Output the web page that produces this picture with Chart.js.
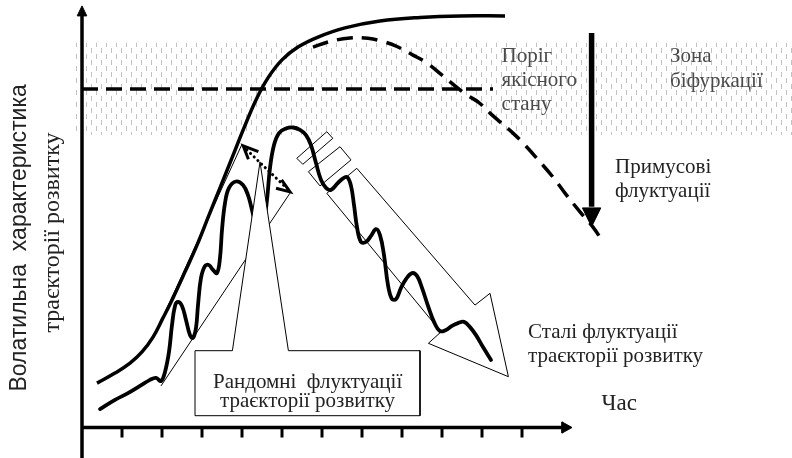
<!DOCTYPE html>
<html><head><meta charset="utf-8">
<script src="https://cdn.jsdelivr.net/npm/chart.js@4/dist/chart.umd.min.js"></script>
<style>html,body{margin:0;padding:0;background:#fff;}#wrap{width:792px;height:458px;position:relative;}</style>
</head><body><div id="wrap"><canvas id="c" width="792" height="458"></canvas></div>
<script>
// ---------- data (time units on x, volatility units on y) ----------
const timeTicks = [10,20,30,40,50,60,70,80,90,100,110];
const growthCurve = [[3.75,11.1],[8.25,13.6],[12,16.1],[15,18.9],[17.75,22.6],[20.25,27.4],[22.75,32.4],[25.75,38.9],[28.75,45.6],[31.75,53.1],[34.5,59.9],[37.5,67.4],[40.5,74.9],[43.5,81.9],[46.5,87.4],[50,91.9],[54,95.1],[59,97.6],[65.75,99.9],[74.5,101.6],[84.5,102.5],[94.5,102.9],[105.75,102.9]];
const declineCurve = [[57.75,95.1],[62,96.5],[67,97.4],[71.5,97.3],[75.25,96.5],[78.75,95.25],[82.75,93.1],[86.25,91.1],[90.25,87.9],[93.25,85.4],[96.25,83.1],[99,81.4],[102,78.6],[104.5,76.4],[107.75,73.6],[110.75,70.6],[114.5,66.4],[117.75,62.6],[120.75,58.6],[124.5,53.9],[127.75,50.1],[130.25,46.4]];
const trajectory = [[4.5,4.6],[8.25,6.9],[11.5,8.6],[14.5,10.4],[17,11.9],[18.5,12.4],[19.75,11.6],[20.75,13.9],[21.75,18.9],[22.5,25.6],[23.25,30.4],[24,31.4],[25,30.4],[26,26.9],[27,23.1],[27.75,22.4],[28.5,24.9],[29,30.6],[29.75,37.4],[30.75,40.4],[31.75,40.6],[32.75,39.4],[33.75,38.6],[34.5,42.4],[35,49.4],[35.75,56.1],[36.75,59.9],[38.5,61.5],[40.25,60.6],[41.5,58.1],[42.5,54.4],[43.5,50.6],[44.5,49.6],[45.5,51.9],[46.25,56.9],[47,64.9],[48,70.6],[49.25,73.6],[51,74.75],[52.75,75],[54.5,74.4],[56,73.1],[57.25,70.6],[58.5,66.1],[59.75,61.9],[61,59.9],[62.25,59.4],[63.75,60.9],[65,62.1],[66.25,62.6],[67.25,60.4],[68,55.6],[68.75,50.1],[69.75,46.4],[71,46.4],[72.25,47.9],[73.5,49.6],[74.5,48.1],[75.5,43.1],[76.5,35.6],[77.5,32.1],[78.5,32.1],[79.75,34.9],[81,37.1],[82.5,38.6],[83.75,37.9],[85,34.9],[86.5,30.4],[88,26.4],[89.5,24.1],[91,24.4],[92.5,25.4],[94,26.1],[95.5,26.4],[97,25.1],[98.5,23.1],[100.25,20.1],[102.25,16.9]];
const qualityThreshold = [[0,84.6],[102.75,84.6]];
const bifurcationZone = [[-1.75,96.2],[177.5,96.2]];
const bifurcationFloor = 73.1;
const risingArrowLeft = [[19.9,26.9],[39.9,70.6]];
const risingArrowRight = [[19.75,10.4],[52,58.6]];
const amplitudeLine = [[41.2,69.4],[51.1,59.9]];
const amplitudeHeadA = [[44.1,68.95],[40.3,70.4],[41.6,67.05]];
const amplitudeHeadB = [[48.5,59.8],[52,58.9],[49.9,61.9]];
const randomCallout = [[28.25,19.2],[37.6,19.2],[44.5,66.4],[51.6,19.2],[84.5,19.2],[84.5,2.95],[28.25,2.95],[28.25,19.2]];
const steadyArrow = [[61.2,58.55],[68.7,64.8],[98.25,30.6],[102,33.55],[106.6,12.7],[86.6,21.05],[89.75,23.9],[61.2,58.55]];
const steadyStripe1 = [[53.7,67.3],[61.2,73.95],[62.7,72.3],[55.2,65.8],[53.7,67.3]];
const steadyStripe2 = [[56.6,63.95],[64.5,70.2],[67.25,66.9],[59.5,60.4],[56.6,63.95]];
const forcedShaft = [[127.4,98.6],[127.4,55.2]];
const forcedHead = [[125.1,54.9],[129.7,54.9],[127.4,50.2],[125.1,54.9]];
const yAxisLine = [[0,-7.7],[0,103]];
const yAxisHead = [[-1.2,102.9],[1.2,102.9],[0,105.4],[-1.2,102.9]];
const xAxisLine = [[0,0],[120.5,0]];
const xAxisHead = [[120,1.4],[120,-1.4],[122.5,0],[120,1.4]];
const tickLength = 2.5;

const labelTexts = {
  threshold: ['Поріг','якісного','стану'],
  zone: ['Зона','біфуркації'],
  forced: ['Примусові','флуктуації'],
  steady: ['Сталі флуктуації','траєкторії розвитку'],
  random: ['Рандомні  флуктуації','траєкторії розвитку'],
  time: 'Час',
  yTitle: ['Волатильна  характеристика','траєкторії розвитку']
};

// ---------- helpers ----------
const pts = a => a.map(p => ({x:p[0], y:p[1]}));
function ds(data, o){
  return Object.assign({data:pts(data), showLine:true, pointRadius:0, pointHoverRadius:0,
    borderColor:'#000', borderWidth:1, fill:false, tension:0, borderJoinStyle:'miter'}, o);
}
function makePattern(){
  const t = document.createElement('canvas'); t.width = 10; t.height = 12;
  const g = t.getContext('2d');
  g.fillStyle = '#c2c2c2';
  g.fillRect(1,0,1,5);
  g.fillRect(6,6,1,5);
  return g.createPattern(t,'repeat');
}

const datasets = [
  ds(bifurcationZone, {order:100, borderWidth:0, borderColor:'rgba(0,0,0,0)', fill:{value:bifurcationFloor}, backgroundColor:makePattern()}),
  ds(qualityThreshold, {order:90, borderWidth:3.5, borderDash:[16,8]}),
  ds(growthCurve, {order:80, borderWidth:3.5, tension:0.4, borderJoinStyle:'round'}),
  ds(declineCurve, {order:80, borderWidth:3.5, tension:0.4, borderDash:[16,9]}),
  ds(trajectory, {order:60, borderWidth:3.8, tension:0.4, borderJoinStyle:'round', borderCapStyle:'round'}),
  ds(risingArrowLeft, {order:55}),
  ds(risingArrowRight, {order:55}),
  ds(steadyArrow, {order:50}),
  ds(steadyStripe1, {order:50}),
  ds(steadyStripe2, {order:50}),
  ds(randomCallout, {order:40, fill:'shape', backgroundColor:'#fff'}),
  ds(amplitudeLine, {order:30, borderWidth:3, borderDash:[0.1,5], borderCapStyle:'round'}),
  ds(amplitudeHeadA, {order:30, borderWidth:3}),
  ds(amplitudeHeadB, {order:30, borderWidth:3}),
  ds(forcedShaft, {order:20, borderWidth:5.5}),
  ds(forcedHead, {order:20, fill:'shape', backgroundColor:'#000'}),
  ds(yAxisLine, {order:10, borderWidth:3.5}),
  ds(yAxisHead, {order:10, fill:'shape', backgroundColor:'#000'}),
  ds(xAxisLine, {order:10, borderWidth:3.5}),
  ds(xAxisHead, {order:10, fill:'shape', backgroundColor:'#000'})
];
timeTicks.forEach(t => datasets.push(ds([[t,0],[t,-tickLength]], {order:10, borderWidth:3})));

const SERIF = '"Liberation Serif", "Times New Roman", serif';
const SANS = '"Liberation Sans", Arial, sans-serif';

const textPlugin = {
  id:'texts',
  afterDraw(chart){
    const {ctx, scales:{x, y}} = chart;
    const X = v => x.getPixelForValue(v), Y = v => y.getPixelForValue(v);
    function lines(arr, xv, yv, step, font, color, align){
      ctx.save(); ctx.font = font; ctx.fillStyle = color; ctx.textAlign = align || 'left'; ctx.textBaseline = 'alphabetic';
      arr.forEach((s,i) => ctx.fillText(s, X(xv), Y(yv) + i*step));
      ctx.restore();
    }
    lines(labelTexts.threshold, 104.9, 91.45, 24.3, '21px '+SERIF, '#4a4a4a');
    lines(labelTexts.zone, 147, 91.45, 25, '21px '+SERIF, '#4a4a4a');
    lines(labelTexts.forced, 133.25, 63.6, 23.7, '21px '+SERIF, '#222');
    lines(labelTexts.steady, 111.5, 22.4, 24, '21px '+SERIF, '#222');
    lines(labelTexts.random, 56.4, 9.9, 19.5, '21px '+SERIF, '#222', 'center');
    lines([labelTexts.time], 129.9, 4.4, 0, '23px '+SERIF, '#222');
    // y axis title, rotated
    ctx.save();
    ctx.fillStyle = '#222'; ctx.textAlign = 'center'; ctx.textBaseline = 'alphabetic';
    ctx.translate(X(-14), Y(47.4)); ctx.rotate(-Math.PI/2);
    ctx.font = '23px '+SANS; ctx.fillText(labelTexts.yTitle[0], 0, 0);
    ctx.restore();
    ctx.save();
    ctx.fillStyle = '#222'; ctx.textAlign = 'center'; ctx.textBaseline = 'alphabetic';
    ctx.translate(X(-5.8), Y(48.75)); ctx.rotate(-Math.PI/2);
    ctx.font = '24px '+SERIF; ctx.fillText(labelTexts.yTitle[1], 0, 0);
    ctx.restore();
  }
};

new Chart(document.getElementById('c'), {
  type:'scatter',
  data:{datasets},
  options:{
    responsive:false, animation:false, events:[],
    layout:{padding:0},
    plugins:{legend:{display:false}, tooltip:{enabled:false}, filler:{propagate:false}},
    scales:{
      x:{type:'linear', display:false, min:-20.5, max:177.5},
      y:{type:'linear', display:false, min:-7.625, max:106.875}
    }
  },
  plugins:[textPlugin]
});
</script></body></html>
